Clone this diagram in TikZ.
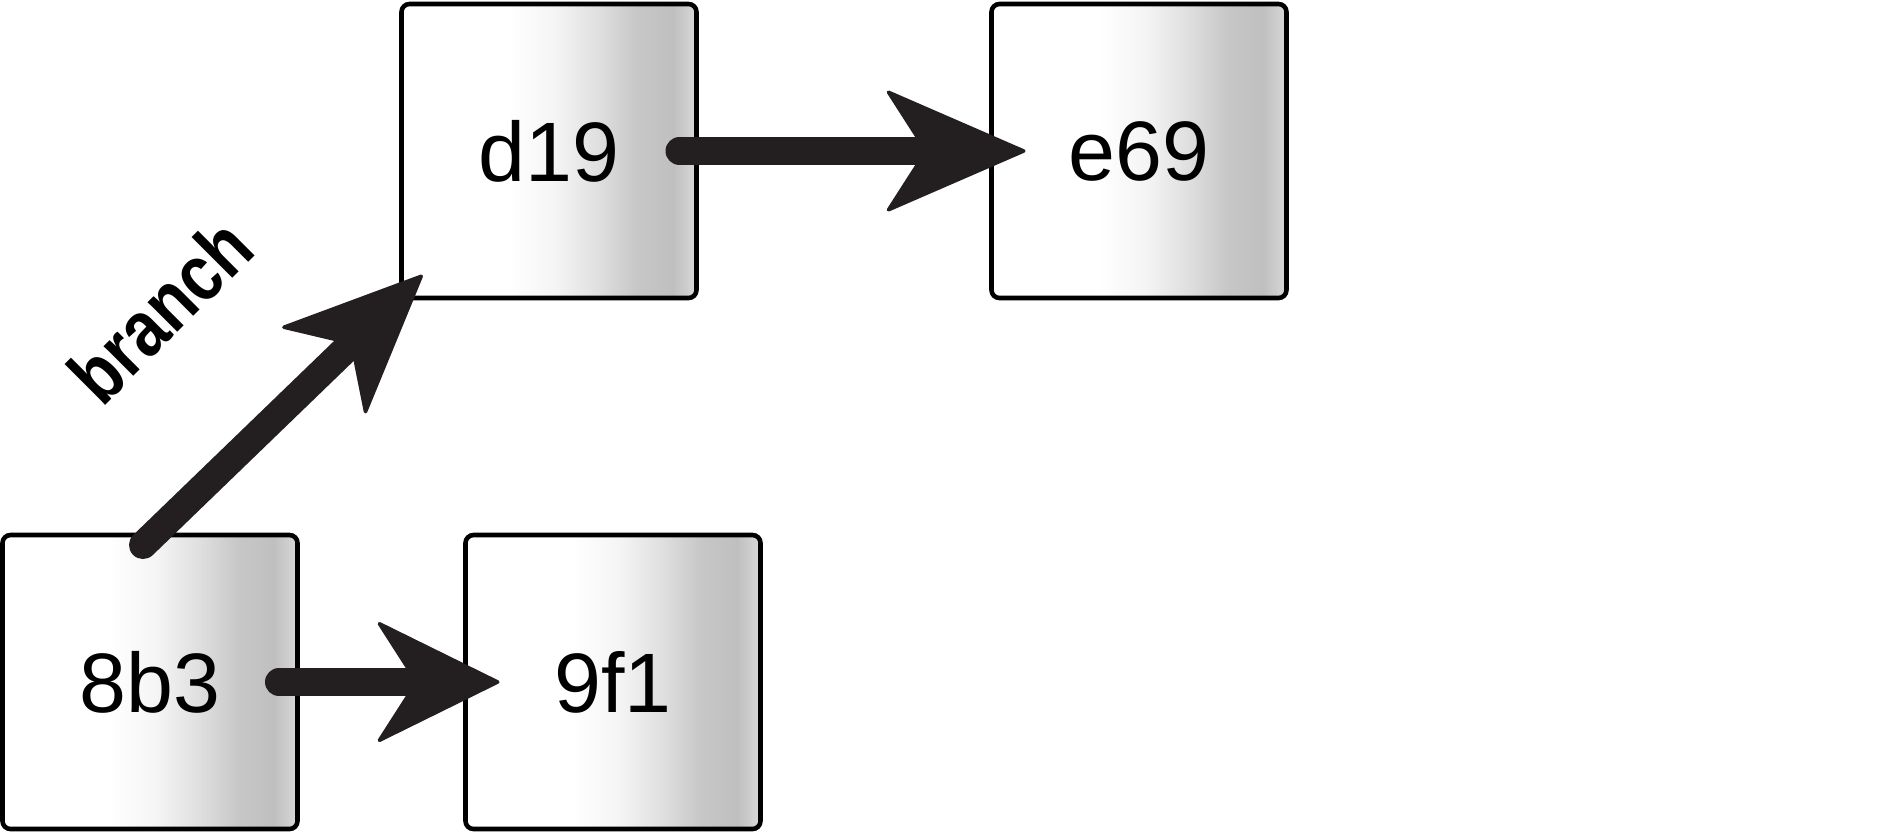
\documentclass[tikz,border=0pt]{standalone}
\usepackage{fontspec}
\setmainfont{Liberation Sans}
\newfontfamily\branchfont[FakeStretch=0.83]{Liberation Sans}
\usetikzlibrary{arrows.meta,positioning}
\definecolor{flechacol}{HTML}{231F20}
%Degradado de las cajas
\pgfdeclarehorizontalshading{caja}{100bp}{color(0bp)=(white); color(43bp)=(white); color(51bp)=(black!4); color(58bp)=(black!12); color(65bp)=(black!22); color(71bp)=(black!25); color(75bp)=(black!15); color(100bp)=(black!15)}

\begin{document}
\begin{tikzpicture}[
    commit/.style={draw=black,line width=1.3pt,rounded corners=0.8mm,shade,shading=caja,minimum width=2.95cm,minimum height=2.94cm,inner sep=0pt,outer sep=0pt,font=\fontsize{24}{24}\selectfont},
    flecha/.style={draw=flechacol,color=flechacol,line width=2.8mm,line cap=round,-{Stealth[length=#1,width=12.5mm,inset=4mm,line width=1pt,round]}},
    flecha/.default=14.4mm]

    \useasboundingbox (0,0) rectangle (18.79,-8.33);

    %Commits
    \node[commit] (cd19) at (5.49,-1.51) {d19};
    \node[commit,right=2.95cm of cd19] (ce69) {e69};
    \node[commit] (c8b3) at (1.50,-6.82) {8b3};
    \node[commit,right=1.68cm of c8b3] (c9f1) {9f1};

    %Flechas
    \draw[flecha] ([xshift=-1.7mm]cd19.east) -- ([xshift=3.4mm]ce69.west);
    \draw[flecha=12.7mm] ([xshift=-1.85mm]c8b3.east) -- ([xshift=3.4mm]c9f1.west);
    \draw[flecha=14.3mm] ([shift={(-0.7mm,-1mm)}]c8b3.north) -- ([shift={(2.1mm,2.3mm)}]cd19.south west);

    %Etiqueta
    \node[rotate=45,inner sep=0pt,font=\branchfont\bfseries\fontsize{22.6}{22.6}\selectfont] (rama) at (1.60,-3.105) {branch};

\end{tikzpicture}
\end{document}
